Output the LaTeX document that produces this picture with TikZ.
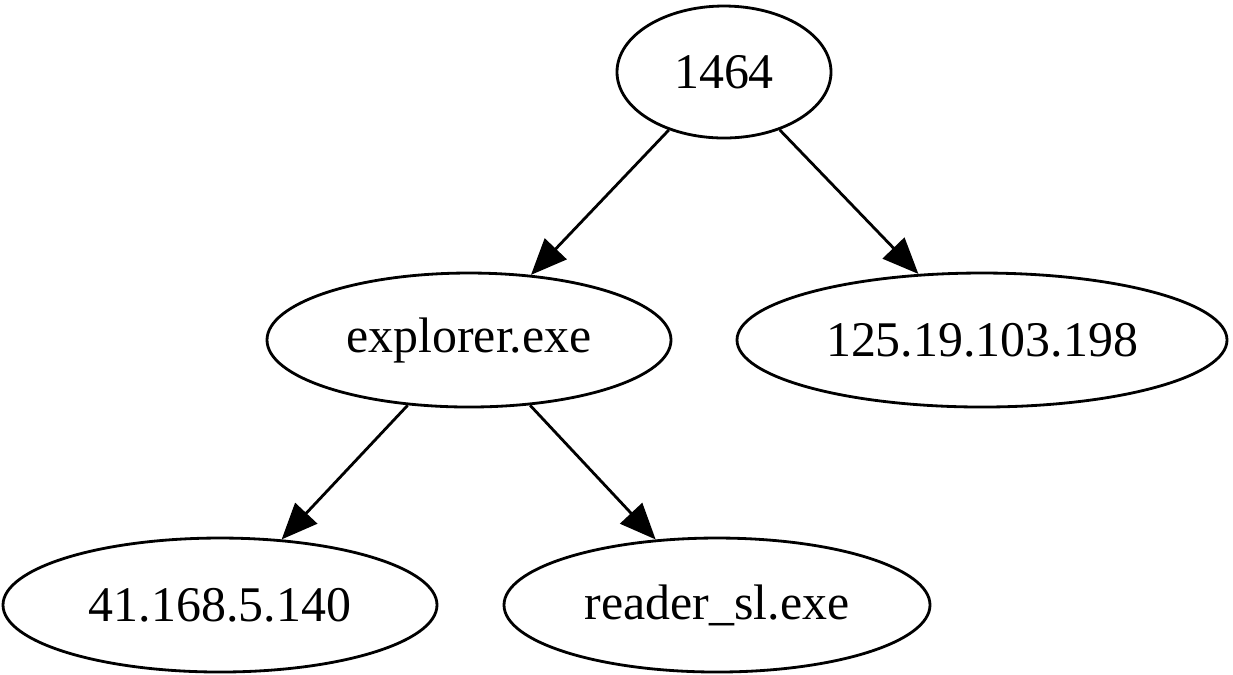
\documentclass[tikz,border=0pt]{standalone}
\usepackage{fontspec}
\setmainfont{Liberation Serif}
\usetikzlibrary{arrows.meta}
\usetikzlibrary{shapes.geometric}
\tikzset{>={Triangle[length=3.6mm,width=3mm]}}
\tikzstyle{procnode}=[draw,ellipse,line width=0.8pt,inner sep=0pt,minimum height=1.34cm,font=\fontsize{14.2}{17}\selectfont]
\tikzstyle{procedge}=[->,line width=0.8pt]

\begin{document}
\begin{tikzpicture}
    \useasboundingbox (0,0) rectangle (12.33,-6.74);

    \node[procnode,minimum width=2.14cm,minimum height=1.32cm] (pid) at (7.24,-0.72) {1464};
    \node[procnode,minimum width=4.04cm] (explorer) at (4.69,-3.40) {explorer.exe};
    \node[procnode,minimum width=4.90cm] (ipa) at (9.82,-3.40) {125.19.103.198};
    \node[procnode,minimum width=4.34cm] (ipb) at (2.20,-6.05) {41.168.5.140};
    \node[procnode,minimum width=4.26cm] (reader) at (7.17,-6.05) {reader\_sl.exe};

    \draw[procedge] (pid) -- (explorer);
    \draw[procedge] (pid) -- (ipa);
    \draw[procedge] (explorer) -- (ipb);
    \draw[procedge] (explorer) -- (reader);
\end{tikzpicture}
\end{document}
